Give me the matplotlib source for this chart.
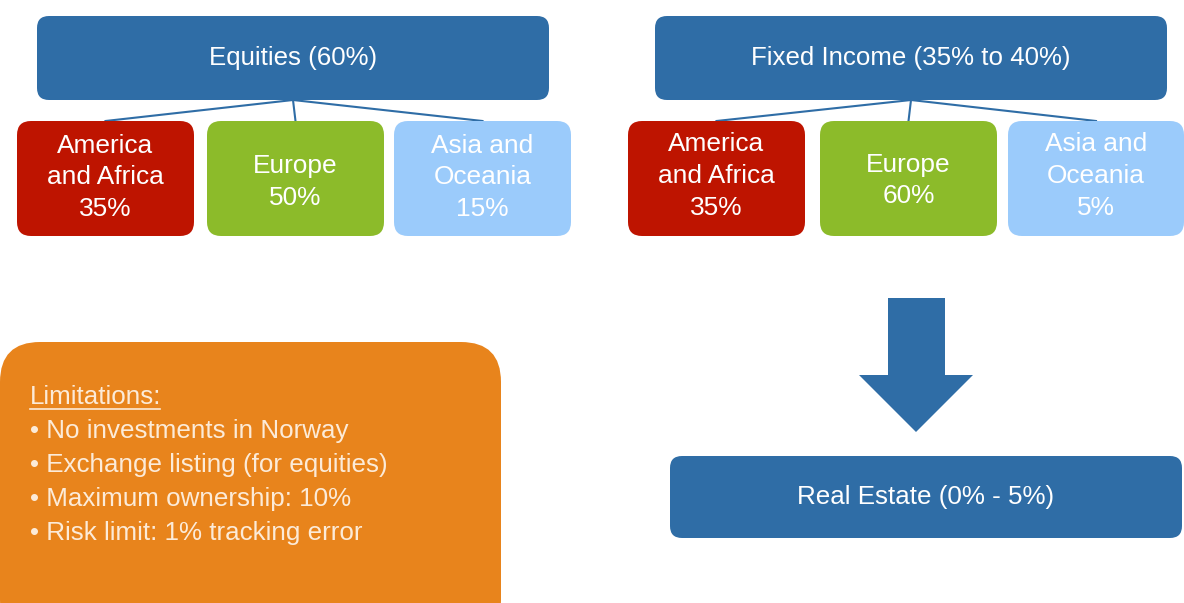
import matplotlib

matplotlib.use("Agg")
import matplotlib.pyplot as plt
from matplotlib.patches import FancyBboxPatch, Polygon

plt.rcParams["font.family"] = ["Liberation Sans", "DejaVu Sans"]

BLUE = "#2F6DA6"
RED = "#BE1400"
GREEN = "#8CBB2A"
LIGHT = "#9BCBFB"
ORANGE = "#E8841C"
CREAM = "#FCEBD8"

GROUPS = ["Equities (60%)", "Fixed Income (35% to 40%)"]
REGIONS = ["America\nand Africa", "Europe", "Asia and\nOceania"]
REGION_COLORS = [RED, GREEN, LIGHT]
EQUITY_SHARES = ["35%", "50%", "15%"]
FIXED_SHARES = ["35%", "60%", "5%"]
REAL_ESTATE = "Real Estate (0% - 5%)"
LIMITS_TITLE = "Limitations:"
LIMITS = [
    "No investments in Norway",
    "Exchange listing (for equities)",
    "Maximum ownership: 10%",
    "Risk limit: 1% tracking error",
]

fig = plt.figure(figsize=(11.84, 6.03), dpi=100)
ax = fig.add_axes([0, 0, 1, 1])
ax.set_xlim(0, 1184)
ax.set_ylim(603, 0)
ax.axis("off")


def box(x0, y0, x1, y1, color, pad=12):
    ax.add_patch(FancyBboxPatch(
        (x0 + pad, y0 + pad), (x1 - x0) - 2 * pad, (y1 - y0) - 2 * pad,
        boxstyle=f"round,pad={pad}", facecolor=color, edgecolor="none"))


def tree(x0, x1, child_x, title, shares, dy=0):
    box(x0, 16, x1, 100, BLUE)
    cx = (x0 + x1) / 2
    ax.text(cx, 58, title, color="white", fontsize=18.6, ha="center", va="center")
    for (c0, c1), name, share, col in zip(child_x, REGIONS, shares, REGION_COLORS):
        mid = (c0 + c1) / 2
        ax.plot([cx, mid], [100, 121], color=BLUE, lw=1.5, zorder=0)
        box(c0, 121, c1, 236, col, pad=14)
        label = name + "\n" + share
        yc = 176 if "\n" in name else 180.5
        ax.text(mid, yc + dy, label, color="white", fontsize=18.9, ha="center",
                va="center", linespacing=1.4)


tree(37, 549, [(17, 194), (207, 384), (394, 571)], GROUPS[0], EQUITY_SHARES,
     dy=1.5)
tree(655, 1167, [(628, 805), (820, 997), (1008, 1184)], GROUPS[1], FIXED_SHARES)

# arrow down to real estate
ax.add_patch(Polygon([(888, 298), (945, 298), (945, 375), (973, 375),
                      (916, 432), (859, 375), (888, 375)],
                     closed=True, facecolor=BLUE, edgecolor="none"))
box(670, 456, 1182, 538, BLUE)
ax.text(926, 497, REAL_ESTATE, color="white", fontsize=18.7, ha="center", va="center")

# limitations panel
box(0, 342, 501, 640, ORANGE, pad=40)
ax.text(30, 397, LIMITS_TITLE, color=CREAM, fontsize=18.7, ha="left", va="center")
ax.plot([30, 160], [409, 409], color=CREAM, lw=1.2)
for i, item in enumerate(LIMITS):
    ax.text(30, 431 + 34 * i, "\u2022 " + item, color=CREAM, fontsize=18.7,
            ha="left", va="center")

fig.savefig("out.png", dpi=100, facecolor="white")
